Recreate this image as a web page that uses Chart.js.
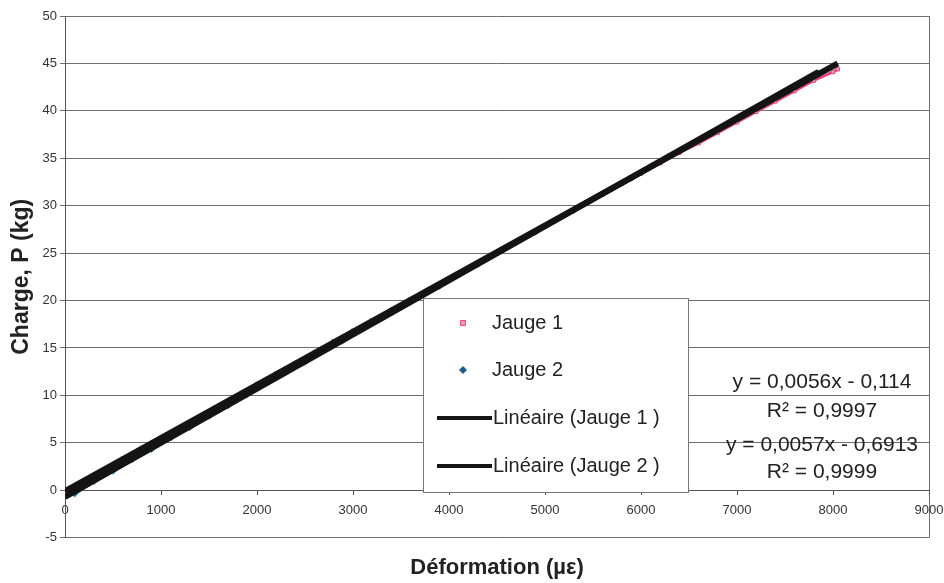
<!DOCTYPE html>
<html>
<head>
<meta charset="utf-8">
<script src="https://cdn.jsdelivr.net/npm/chart.js@4.4.1/dist/chart.umd.min.js"></script>
<style>
  html, body { margin: 0; padding: 0; background: #fff; }
</style>
</head>
<body>
<canvas id="chart" width="944" height="583"></canvas>
<script>
// Jauge 1 (pink squares)
const jauge1X = [0, 200, 400, 600, 800, 1000, 1200, 1400, 1600, 1800, 2000, 2200, 2400, 2600, 2800,
  3000, 3200, 3400, 3600, 3800, 4000, 4200, 4400, 4600, 4800, 5000, 5200, 5400, 5600, 5800,
  6000, 6200, 6400, 6600, 6800, 7000, 7200, 7400, 7600, 7800, 8000, 8050];
const jauge1Y = [0.0, 1.0, 2.1, 3.3, 4.4, 5.5, 6.6, 7.7, 8.9, 10.0, 11.2, 12.3, 13.4, 14.5, 15.7,
  16.8, 17.9, 19.0, 20.1, 21.2, 22.3, 23.4, 24.5, 25.6, 26.7, 27.8, 29.0, 30.1, 31.2, 32.3,
  33.4, 34.5, 35.6, 36.6, 37.7, 38.8, 39.9, 41.0, 42.1, 43.2, 44.1, 44.4];

// Jauge 2 (blue diamonds)
const jauge2X = [100, 300, 500, 700, 900, 1100, 1300, 1500, 1700, 1900, 2100, 2300, 2500, 2700,
  2900, 3100, 3300, 3500, 3700, 3900, 4100, 4300, 4500, 4700, 4900, 5100, 5300, 5500, 5700,
  5900, 6100, 6300, 6500, 6700, 6900, 7100, 7300, 7500, 7700, 7850];
const jauge2Y = [-0.4, 0.9, 2.0, 3.2, 4.3, 5.5, 6.6, 7.8, 8.9, 10.1, 11.3, 12.4, 13.5, 14.7,
  15.8, 17.0, 18.1, 19.3, 20.4, 21.5, 22.7, 23.8, 25.0, 26.1, 27.2, 28.4, 29.5, 30.7, 31.8,
  32.9, 34.1, 35.2, 36.4, 37.5, 38.6, 39.8, 40.9, 42.1, 43.2, 44.0];

// trend lines (ends)
const trend1X = [0, 8050];
const trend1Y = [-0.1, 45.0];
const trend2X = [0, 7850];
const trend2Y = [-0.7, 44.1];

const seriesNames = ['Jauge 1', 'Jauge 2', 'Linéaire (Jauge 1 )', 'Linéaire (Jauge 2 )'];
const equations = ['y = 0,0056x - 0,114', 'R² = 0,9997', 'y = 0,0057x - 0,6913', 'R² = 0,9999'];

const xMin = 0, xMax = 9000, xStep = 1000;
const yMin = -5, yMax = 50, yStep = 5;

const FONT = 'Arial, "Liberation Sans", sans-serif';
Chart.defaults.font.family = FONT;

const toPoints = (xs, ys) => xs.map((x, i) => ({ x: x, y: ys[i] }));

const datasets = [
    {
        label: seriesNames[2],
        data: toPoints(trend1X, trend1Y),
        showLine: true,
        borderColor: '#141414',
        borderWidth: 6,
        pointRadius: 0,
        order: 0
    },
    {
        label: seriesNames[3],
        data: toPoints(trend2X, trend2Y),
        showLine: true,
        borderColor: '#141414',
        borderWidth: 6,
        pointRadius: 0,
        order: 0
    },
    {
        label: seriesNames[0],
        data: toPoints(jauge1X, jauge1Y),
        showLine: true,
        borderColor: '#e4467e',
        borderWidth: 3,
        pointStyle: 'rect',
        pointRadius: 2.5,
        pointBackgroundColor: '#f39bbb',
        pointBorderColor: '#e4467e',
        pointBorderWidth: 1,
        order: 2
    },
    {
        label: seriesNames[1],
        data: toPoints(jauge2X, jauge2Y),
        showLine: true,
        borderColor: '#1f6f9a',
        borderWidth: 3,
        pointStyle: 'rectRot',
        pointRadius: 3,
        pointBackgroundColor: '#1d5b86',
        pointBorderColor: '#2a9ac2',
        pointBorderWidth: 1,
        order: 1
    }
];

// legend box + equation labels, drawn on top
const overlayPlugin = {
    id: 'overlay',
    afterDraw(chart) {
        const ctx = chart.ctx;
        ctx.save();

        const box = { left: 423, top: 298, width: 265, height: 194 };
        const rows = [323, 370, 418, 466];
        ctx.fillStyle = '#fff';
        ctx.fillRect(box.left, box.top, box.width, box.height);
        ctx.strokeStyle = '#777';
        ctx.lineWidth = 1;
        ctx.strokeRect(box.left + 0.5, box.top + 0.5, box.width, box.height);

        ctx.textBaseline = 'middle';
        ctx.textAlign = 'left';

        // markers
        const ds = chart.data.datasets;
        const j1 = ds[2], j2 = ds[3];
        ctx.fillStyle = j1.pointBackgroundColor;
        ctx.strokeStyle = j1.pointBorderColor;
        Chart.helpers.drawPoint(ctx, { pointStyle: 'rect', radius: 3.5, rotation: 0, borderWidth: 1.5 }, 463, rows[0]);
        ctx.fillStyle = j2.pointBackgroundColor;
        ctx.strokeStyle = j2.pointBackgroundColor;
        Chart.helpers.drawPoint(ctx, { pointStyle: 'rectRot', radius: 3.5, rotation: 0, borderWidth: 1 }, 463, rows[1]);

        // line samples
        ctx.strokeStyle = '#141414';
        ctx.lineWidth = 4;
        [rows[2], rows[3]].forEach(y => {
            ctx.beginPath();
            ctx.moveTo(437, y);
            ctx.lineTo(492, y);
            ctx.stroke();
        });

        ctx.font = '20px ' + FONT;
        ctx.fillStyle = '#222';
        ctx.fillText(seriesNames[0], 492, rows[0]);
        ctx.fillText(seriesNames[1], 492, rows[1]);
        ctx.fillText(seriesNames[2], 493, rows[2]);
        ctx.fillText(seriesNames[3], 493, rows[3]);

        // trend equations
        ctx.font = '21px ' + FONT;
        ctx.textAlign = 'center';
        const eqY = [382, 411, 445, 472];
        equations.forEach((t, i) => ctx.fillText(t, 822, eqY[i]));

        ctx.restore();
    }
};

new Chart(document.getElementById('chart'), {
    type: 'scatter',
    data: { datasets: datasets },
    options: {
        responsive: false,
        animation: false,
        layout: { padding: { top: 16, right: 15, left: 0, bottom: 0 } },
        plugins: {
            legend: { display: false },
            tooltip: { enabled: false },
            title: {
                display: true,
                position: 'bottom',
                fullSize: false,
                text: 'Déformation (µε)',
                color: '#222',
                font: { size: 22, weight: 'bold' },
                padding: { top: 17, bottom: 2 }
            }
        },
        scales: {
            x: {
                type: 'linear',
                position: { y: 0 },
                min: xMin,
                max: xMax,
                ticks: {
                    stepSize: xStep,
                    color: '#333',
                    font: { size: 13 },
                    padding: 8,
                    maxRotation: 0,
                    callback: v => String(v)
                },
                grid: {
                    drawOnChartArea: true,
                    color: c => (c.tick && c.tick.value === xMax) ? '#6e6e6e' : 'rgba(0,0,0,0)',
                    tickColor: '#555',
                    tickLength: 4
                },
                border: { color: '#555' },
                afterFit: s => {
                    s.height = 0;
                    s.paddingLeft = 0;
                    s.paddingRight = 0;
                }
            },
            y: {
                min: yMin,
                max: yMax,
                ticks: {
                    stepSize: yStep,
                    color: '#333',
                    font: { size: 13 },
                    padding: 3
                },
                grid: { color: '#6e6e6e', tickLength: 5 },
                border: { color: '#555' },
                title: {
                    display: true,
                    text: 'Charge, P (kg)',
                    color: '#222',
                    font: { size: 23, weight: 'bold' },
                    padding: { top: 8, bottom: 0 }
                },
                afterFit: s => {
                    s.width = 65;
                    s.paddingTop = 0;
                    s.paddingBottom = 0;
                }
            }
        }
    },
    plugins: [overlayPlugin]
});
</script>
</body>
</html>
